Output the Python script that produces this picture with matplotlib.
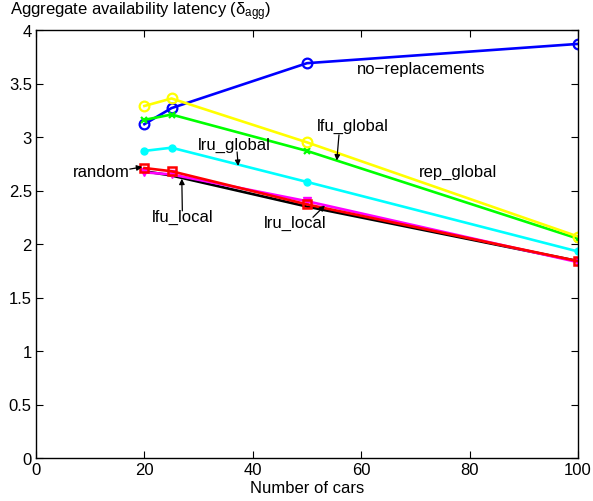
import matplotlib
matplotlib.use("Agg")
import matplotlib.pyplot as plt

plt.rcParams['font.family'] = ['Liberation Sans', 'DejaVu Sans']
plt.rcParams['mathtext.fontset'] = 'custom'
plt.rcParams['mathtext.rm'] = 'Liberation Sans'
plt.rcParams['mathtext.it'] = 'Liberation Sans'

cars = [20, 25, 50, 100]
no_replacements = [3.12, 3.27, 3.69, 3.87]
rep_global = [3.29, 3.36, 2.95, 2.07]
lfu_global = [3.16, 3.21, 2.87, 2.05]
lru_global = [2.87, 2.90, 2.58, 1.93]
lfu_local = [2.68, 2.64, 2.35, 1.84]
lru_local = [2.67, 2.65, 2.40, 1.83]
random_ = [2.71, 2.68, 2.37, 1.84]

xticks = [0, 20, 40, 60, 80, 100]
yticks = [0, 0.5, 1, 1.5, 2, 2.5, 3, 3.5, 4]
ytick_labels = ['0', '0.5', '1', '1.5', '2', '2.5', '3', '3.5', '4']

fig = plt.figure(figsize=(5.93, 5.02), dpi=100)
ax = fig.add_axes([36/593, 43/502, 542/593, 428/502])

lw = 1.9
ax.plot(cars, no_replacements, color='#0000ff', marker='o', mfc='none', mew=1.6, ms=7, lw=lw)
ax.plot(cars, lfu_local, color='black', lw=lw)
ax.plot(cars, lru_local, color='#ff00ff', marker='v', mfc='#ff00ff', ms=6, lw=lw)
ax.plot(cars, random_, color='#ff0000', marker='s', mfc='none', mew=1.8, ms=6, lw=lw)
ax.plot(cars, lru_global, color='#00ffff', marker='.', ms=10, lw=lw)
ax.plot(cars, lfu_global, color='#00ff00', marker='x', ms=5, mew=1.6, lw=lw)
ax.plot(cars, rep_global, color='#ffff00', marker='o', mfc='none', mew=1.6, ms=7, lw=lw)

ax.set_xlim(0, 100)
ax.set_ylim(0, 4)
ax.set_xticks(xticks)
ax.set_yticks(yticks)
ax.set_yticklabels(ytick_labels)
ax.tick_params(direction='in', top=True, right=True, labelsize=12, length=5, width=0.8, pad=3)
for s in ax.spines.values():
    s.set_linewidth(1.0)
ax.set_xlabel('Number of cars', fontsize=12, labelpad=2)

fig.text(10/593, 1 - 12/502, r'Aggregate availability latency ($\delta_{\mathrm{agg}}$)',
         fontsize=12, ha='left', va='center')

fs = 12
ap = dict(arrowstyle='-|>', color='black', lw=0.9, mutation_scale=8, shrinkA=0, shrinkB=0)

ax.text(71.0, 3.64, 'no\u2212replacements', fontsize=fs, ha='center', va='center')
ax.text(77.9, 2.68, 'rep_global', fontsize=fs, ha='center', va='center')

ax.text(58.5, 3.11, 'lfu_global', fontsize=fs, ha='center', va='center')
ax.annotate('', xy=(55.5, 2.78), xytext=(55.9, 3.02), arrowprops=ap)

ax.text(36.6, 2.93, 'lru_global', fontsize=fs, ha='center', va='center')
ax.annotate('', xy=(37.3, 2.73), xytext=(37.1, 2.86), arrowprops=ap)

ax.text(12.0, 2.68, 'random', fontsize=fs, ha='center', va='center')
ax.annotate('', xy=(19.6, 2.72), xytext=(17.3, 2.70), arrowprops=ap)

ax.text(27.0, 2.26, 'lfu_local', fontsize=fs, ha='center', va='center')
ax.annotate('', xy=(26.9, 2.61), xytext=(27.0, 2.31), arrowprops=ap)

ax.text(47.9, 2.20, 'lru_local', fontsize=fs, ha='center', va='center')
ax.annotate('', xy=(53.3, 2.36), xytext=(51.1, 2.25), arrowprops=ap)

fig.savefig('out.png', dpi=100)
